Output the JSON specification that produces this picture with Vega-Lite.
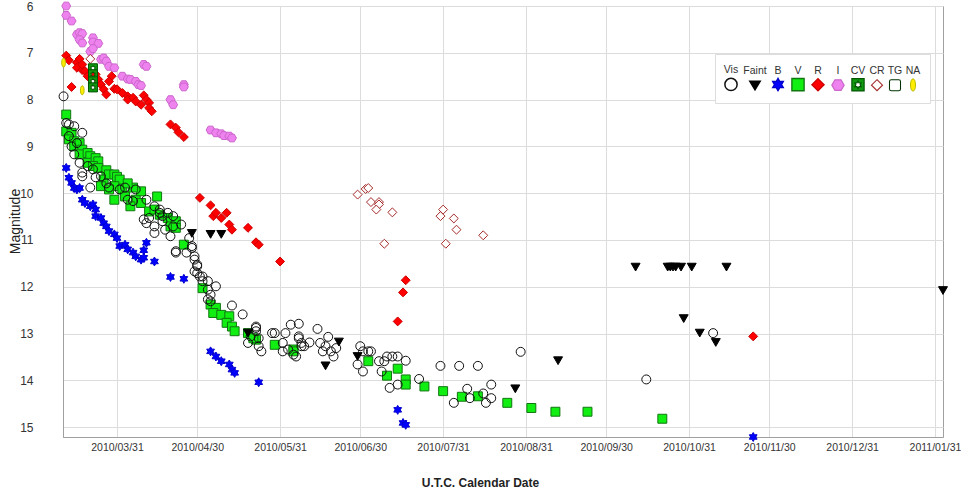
{
  "$schema": "https://vega.github.io/schema/vega-lite/v6.json",
  "width": 880,
  "height": 431,
  "autosize": {"type": "none"},
  "padding": {"left": 63, "top": 6, "right": 18, "bottom": 58},
  "background": "#ffffff",
  "config": {"view": {"stroke": "#a0a0a0", "strokeWidth": 1}, "font": "Liberation Sans"},
  "data": {"values": [
    {"d":"2010-03-12","m":6.0,"b":"I"},{"d":"2010-03-12","m":6.2,"b":"I"},{"d":"2010-03-14","m":6.32,"b":"I"},{"d":"2010-03-16","m":6.61,"b":"I"},{"d":"2010-03-17","m":6.57,"b":"I"},{"d":"2010-03-18","m":6.59,"b":"I"},{"d":"2010-03-17","m":6.72,"b":"I"},{"d":"2010-03-18","m":6.79,"b":"I"},{"d":"2010-03-22","m":6.68,"b":"I"},{"d":"2010-03-22","m":6.77,"b":"I"},{"d":"2010-03-24","m":6.8,"b":"I"},{"d":"2010-03-21","m":6.97,"b":"I"},{"d":"2010-03-22","m":6.91,"b":"I"},{"d":"2010-03-25","m":7.14,"b":"I"},{"d":"2010-03-26","m":7.11,"b":"I"},{"d":"2010-03-27","m":7.18,"b":"I"},{"d":"2010-03-28","m":7.29,"b":"I"},{"d":"2010-03-30","m":7.32,"b":"I"},{"d":"2010-04-02","m":7.5,"b":"I"},{"d":"2010-04-04","m":7.56,"b":"I"},{"d":"2010-04-05","m":7.57,"b":"I"},{"d":"2010-04-07","m":7.61,"b":"I"},{"d":"2010-04-08","m":7.68,"b":"I"},{"d":"2010-04-09","m":7.7,"b":"I"},{"d":"2010-04-10","m":7.25,"b":"I"},{"d":"2010-04-11","m":7.29,"b":"I"},{"d":"2010-04-20","m":8.0,"b":"I"},{"d":"2010-04-21","m":8.11,"b":"I"},{"d":"2010-04-25","m":7.68,"b":"I"},{"d":"2010-04-25","m":7.73,"b":"I"},{"d":"2010-05-05","m":8.65,"b":"I"},{"d":"2010-05-07","m":8.71,"b":"I"},{"d":"2010-05-09","m":8.73,"b":"I"},{"d":"2010-05-10","m":8.77,"b":"I"},{"d":"2010-05-12","m":8.78,"b":"I"},{"d":"2010-05-13","m":8.82,"b":"I"},
    {"d":"2010-03-12","m":7.06,"b":"R"},{"d":"2010-03-13","m":7.16,"b":"R"},{"d":"2010-03-16","m":7.21,"b":"R"},{"d":"2010-03-17","m":7.13,"b":"R"},{"d":"2010-03-16","m":7.32,"b":"R"},{"d":"2010-03-18","m":7.37,"b":"R"},{"d":"2010-03-18","m":7.25,"b":"R"},{"d":"2010-03-19","m":7.39,"b":"R"},{"d":"2010-03-20","m":7.5,"b":"R"},{"d":"2010-03-14","m":7.73,"b":"R"},{"d":"2010-03-23","m":7.46,"b":"R"},{"d":"2010-03-24","m":7.57,"b":"R"},{"d":"2010-03-25","m":7.68,"b":"R"},{"d":"2010-03-26","m":7.78,"b":"R"},{"d":"2010-03-27","m":7.89,"b":"R"},{"d":"2010-03-29","m":7.5,"b":"R"},{"d":"2010-03-28","m":7.61,"b":"R"},{"d":"2010-03-30","m":7.77,"b":"R"},{"d":"2010-03-31","m":7.78,"b":"R"},{"d":"2010-04-02","m":7.86,"b":"R"},{"d":"2010-04-04","m":7.93,"b":"R"},{"d":"2010-04-04","m":8.0,"b":"R"},{"d":"2010-04-06","m":7.96,"b":"R"},{"d":"2010-04-07","m":8.04,"b":"R"},{"d":"2010-04-09","m":8.11,"b":"R"},{"d":"2010-04-10","m":7.91,"b":"R"},{"d":"2010-04-11","m":8.0,"b":"R"},{"d":"2010-04-12","m":8.07,"b":"R"},{"d":"2010-04-12","m":8.18,"b":"R"},{"d":"2010-04-13","m":8.25,"b":"R"},{"d":"2010-04-20","m":8.53,"b":"R"},{"d":"2010-04-22","m":8.6,"b":"R"},{"d":"2010-04-23","m":8.7,"b":"R"},{"d":"2010-04-25","m":8.8,"b":"R"},{"d":"2010-05-01","m":10.1,"b":"R"},{"d":"2010-05-05","m":10.26,"b":"R"},{"d":"2010-05-06","m":10.49,"b":"R"},{"d":"2010-05-07","m":10.42,"b":"R"},{"d":"2010-05-09","m":10.53,"b":"R"},{"d":"2010-05-11","m":10.42,"b":"R"},{"d":"2010-05-12","m":10.67,"b":"R"},{"d":"2010-05-13","m":10.78,"b":"R"},{"d":"2010-05-19","m":10.74,"b":"R"},{"d":"2010-05-22","m":11.05,"b":"R"},{"d":"2010-05-23","m":11.1,"b":"R"},{"d":"2010-05-31","m":11.46,"b":"R"},{"d":"2010-07-17","m":11.86,"b":"R"},{"d":"2010-07-16","m":12.12,"b":"R"},{"d":"2010-07-14","m":12.74,"b":"R"},{"d":"2010-11-24","m":13.06,"b":"R"},
    {"d":"2010-03-12","m":8.32,"b":"V"},{"d":"2010-03-12","m":8.68,"b":"V"},{"d":"2010-03-14","m":8.71,"b":"V"},{"d":"2010-03-13","m":8.85,"b":"V"},{"d":"2010-03-15","m":8.89,"b":"V"},{"d":"2010-03-15","m":9.0,"b":"V"},{"d":"2010-03-17","m":8.93,"b":"V"},{"d":"2010-03-18","m":9.07,"b":"V"},{"d":"2010-03-17","m":9.17,"b":"V"},{"d":"2010-03-20","m":9.14,"b":"V"},{"d":"2010-03-21","m":9.21,"b":"V"},{"d":"2010-03-20","m":9.35,"b":"V"},{"d":"2010-03-23","m":9.25,"b":"V"},{"d":"2010-03-24","m":9.32,"b":"V"},{"d":"2010-03-22","m":9.42,"b":"V"},{"d":"2010-03-24","m":9.46,"b":"V"},{"d":"2010-03-27","m":9.51,"b":"V"},{"d":"2010-03-26","m":9.71,"b":"V"},{"d":"2010-03-25","m":9.85,"b":"V"},{"d":"2010-03-28","m":9.6,"b":"V"},{"d":"2010-03-30","m":9.6,"b":"V"},{"d":"2010-03-31","m":9.65,"b":"V"},{"d":"2010-04-01","m":9.71,"b":"V"},{"d":"2010-03-30","m":9.85,"b":"V"},{"d":"2010-03-30","m":10.14,"b":"V"},{"d":"2010-03-28","m":9.92,"b":"V"},{"d":"2010-04-02","m":9.92,"b":"V"},{"d":"2010-04-03","m":10.07,"b":"V"},{"d":"2010-04-07","m":10.14,"b":"V"},{"d":"2010-04-05","m":10.28,"b":"V"},{"d":"2010-04-09","m":10.21,"b":"V"},{"d":"2010-04-15","m":10.07,"b":"V"},{"d":"2010-04-12","m":10.39,"b":"V"},{"d":"2010-04-14","m":10.35,"b":"V"},{"d":"2010-04-16","m":10.46,"b":"V"},{"d":"2010-04-19","m":10.53,"b":"V"},{"d":"2010-04-20","m":10.71,"b":"V"},{"d":"2010-04-22","m":10.6,"b":"V"},{"d":"2010-04-22","m":10.74,"b":"V"},{"d":"2010-04-25","m":11.1,"b":"V"},{"d":"2010-04-09","m":9.96,"b":"V"},{"d":"2010-04-06","m":9.88,"b":"V"},{"d":"2010-04-04","m":9.79,"b":"V"},{"d":"2010-05-02","m":12.03,"b":"V"},{"d":"2010-05-05","m":12.38,"b":"V"},{"d":"2010-05-07","m":12.45,"b":"V"},{"d":"2010-05-06","m":12.56,"b":"V"},{"d":"2010-05-09","m":12.6,"b":"V"},{"d":"2010-05-12","m":12.63,"b":"V"},{"d":"2010-05-11","m":12.77,"b":"V"},{"d":"2010-05-13","m":12.85,"b":"V"},{"d":"2010-05-14","m":12.95,"b":"V"},{"d":"2010-05-19","m":12.99,"b":"V"},{"d":"2010-05-22","m":13.13,"b":"V"},{"d":"2010-05-21","m":13.1,"b":"V"},{"d":"2010-05-29","m":13.24,"b":"V"},{"d":"2010-06-05","m":13.34,"b":"V"},{"d":"2010-06-05","m":13.38,"b":"V"},{"d":"2010-07-03","m":13.59,"b":"V"},{"d":"2010-07-10","m":13.9,"b":"V"},{"d":"2010-07-14","m":13.75,"b":"V"},{"d":"2010-07-17","m":13.98,"b":"V"},{"d":"2010-07-17","m":14.09,"b":"V"},{"d":"2010-07-24","m":14.13,"b":"V"},{"d":"2010-07-31","m":14.23,"b":"V"},{"d":"2010-08-07","m":14.35,"b":"V"},{"d":"2010-08-13","m":14.34,"b":"V"},{"d":"2010-08-24","m":14.48,"b":"V"},{"d":"2010-09-02","m":14.59,"b":"V"},{"d":"2010-09-11","m":14.67,"b":"V"},{"d":"2010-09-23","m":14.67,"b":"V"},{"d":"2010-10-21","m":14.82,"b":"V"},
    {"d":"2010-03-11","m":7.93,"b":"Vis"},{"d":"2010-03-12","m":8.5,"b":"Vis"},{"d":"2010-03-13","m":8.53,"b":"Vis"},{"d":"2010-03-15","m":8.57,"b":"Vis"},{"d":"2010-03-18","m":8.71,"b":"Vis"},{"d":"2010-03-13","m":8.78,"b":"Vis"},{"d":"2010-03-14","m":9.0,"b":"Vis"},{"d":"2010-03-16","m":8.93,"b":"Vis"},{"d":"2010-03-15","m":9.17,"b":"Vis"},{"d":"2010-03-17","m":9.35,"b":"Vis"},{"d":"2010-03-18","m":9.56,"b":"Vis"},{"d":"2010-03-18","m":9.64,"b":"Vis"},{"d":"2010-03-20","m":9.42,"b":"Vis"},{"d":"2010-03-22","m":9.49,"b":"Vis"},{"d":"2010-03-21","m":9.88,"b":"Vis"},{"d":"2010-03-23","m":9.66,"b":"Vis"},{"d":"2010-03-25","m":9.64,"b":"Vis"},{"d":"2010-03-27","m":9.79,"b":"Vis"},{"d":"2010-03-28","m":9.88,"b":"Vis"},{"d":"2010-04-01","m":9.92,"b":"Vis"},{"d":"2010-04-03","m":9.88,"b":"Vis"},{"d":"2010-04-07","m":9.92,"b":"Vis"},{"d":"2010-04-04","m":10.14,"b":"Vis"},{"d":"2010-04-06","m":10.17,"b":"Vis"},{"d":"2010-04-11","m":10.14,"b":"Vis"},{"d":"2010-04-14","m":10.28,"b":"Vis"},{"d":"2010-04-16","m":10.35,"b":"Vis"},{"d":"2010-04-14","m":10.71,"b":"Vis"},{"d":"2010-04-17","m":10.6,"b":"Vis"},{"d":"2010-04-19","m":10.42,"b":"Vis"},{"d":"2010-04-18","m":10.78,"b":"Vis"},{"d":"2010-04-21","m":10.71,"b":"Vis"},{"d":"2010-04-24","m":10.67,"b":"Vis"},{"d":"2010-04-20","m":10.92,"b":"Vis"},{"d":"2010-04-22","m":11.24,"b":"Vis"},{"d":"2010-04-27","m":10.96,"b":"Vis"},{"d":"2010-04-28","m":11.13,"b":"Vis"},{"d":"2010-04-29","m":11.35,"b":"Vis"},{"d":"2010-04-30","m":11.53,"b":"Vis"},{"d":"2010-04-29","m":11.67,"b":"Vis"},{"d":"2010-05-01","m":11.78,"b":"Vis"},{"d":"2010-04-10","m":10.56,"b":"Vis"},{"d":"2010-04-11","m":10.64,"b":"Vis"},{"d":"2010-04-12","m":10.53,"b":"Vis"},{"d":"2010-04-17","m":10.49,"b":"Vis"},{"d":"2010-04-16","m":10.42,"b":"Vis"},{"d":"2010-04-14","m":10.85,"b":"Vis"},{"d":"2010-04-21","m":10.49,"b":"Vis"},{"d":"2010-04-22","m":11.27,"b":"Vis"},{"d":"2010-04-26","m":11.27,"b":"Vis"},{"d":"2010-04-28","m":11.17,"b":"Vis"},{"d":"2010-04-29","m":11.42,"b":"Vis"},{"d":"2010-04-30","m":11.56,"b":"Vis"},{"d":"2010-04-30","m":11.71,"b":"Vis"},{"d":"2010-05-02","m":11.78,"b":"Vis"},{"d":"2010-05-02","m":11.88,"b":"Vis"},{"d":"2010-05-04","m":11.88,"b":"Vis"},{"d":"2010-05-07","m":11.99,"b":"Vis"},{"d":"2010-05-04","m":12.06,"b":"Vis"},{"d":"2010-05-05","m":12.17,"b":"Vis"},{"d":"2010-05-04","m":12.27,"b":"Vis"},{"d":"2010-05-05","m":12.31,"b":"Vis"},{"d":"2010-05-13","m":12.4,"b":"Vis"},{"d":"2010-05-17","m":12.59,"b":"Vis"},{"d":"2010-05-22","m":12.85,"b":"Vis"},{"d":"2010-05-22","m":12.95,"b":"Vis"},{"d":"2010-05-20","m":13.06,"b":"Vis"},{"d":"2010-05-19","m":13.2,"b":"Vis"},{"d":"2010-05-23","m":13.27,"b":"Vis"},{"d":"2010-05-24","m":13.38,"b":"Vis"},{"d":"2010-05-29","m":12.99,"b":"Vis"},{"d":"2010-06-02","m":12.99,"b":"Vis"},{"d":"2010-06-04","m":12.81,"b":"Vis"},{"d":"2010-06-07","m":12.79,"b":"Vis"},{"d":"2010-06-01","m":13.2,"b":"Vis"},{"d":"2010-06-03","m":13.34,"b":"Vis"},{"d":"2010-06-01","m":13.38,"b":"Vis"},{"d":"2010-06-07","m":13.06,"b":"Vis"},{"d":"2010-06-08","m":13.2,"b":"Vis"},{"d":"2010-06-06","m":13.49,"b":"Vis"},{"d":"2010-06-09","m":13.27,"b":"Vis"},{"d":"2010-05-22","m":12.88,"b":"Vis"},{"d":"2010-05-23","m":13.1,"b":"Vis"},{"d":"2010-05-28","m":12.99,"b":"Vis"},{"d":"2010-06-07","m":13.1,"b":"Vis"},{"d":"2010-06-05","m":13.45,"b":"Vis"},{"d":"2010-06-08","m":13.27,"b":"Vis"},{"d":"2010-06-11","m":13.19,"b":"Vis"},{"d":"2010-06-14","m":12.9,"b":"Vis"},{"d":"2010-06-15","m":13.2,"b":"Vis"},{"d":"2010-06-17","m":13.27,"b":"Vis"},{"d":"2010-06-16","m":13.38,"b":"Vis"},{"d":"2010-06-19","m":13.38,"b":"Vis"},{"d":"2010-06-18","m":13.07,"b":"Vis"},{"d":"2010-06-21","m":13.31,"b":"Vis"},{"d":"2010-06-20","m":13.49,"b":"Vis"},{"d":"2010-06-30","m":13.27,"b":"Vis"},{"d":"2010-07-01","m":13.38,"b":"Vis"},{"d":"2010-07-03","m":13.38,"b":"Vis"},{"d":"2010-07-04","m":13.38,"b":"Vis"},{"d":"2010-06-29","m":13.66,"b":"Vis"},{"d":"2010-07-01","m":13.81,"b":"Vis"},{"d":"2010-07-07","m":13.59,"b":"Vis"},{"d":"2010-07-08","m":13.81,"b":"Vis"},{"d":"2010-07-09","m":13.59,"b":"Vis"},{"d":"2010-07-10","m":13.49,"b":"Vis"},{"d":"2010-07-12","m":13.49,"b":"Vis"},{"d":"2010-07-14","m":13.49,"b":"Vis"},{"d":"2010-07-17","m":13.58,"b":"Vis"},{"d":"2010-07-11","m":14.16,"b":"Vis"},{"d":"2010-07-14","m":14.09,"b":"Vis"},{"d":"2010-07-22","m":13.97,"b":"Vis"},{"d":"2010-07-30","m":13.69,"b":"Vis"},{"d":"2010-08-06","m":13.69,"b":"Vis"},{"d":"2010-08-13","m":13.69,"b":"Vis"},{"d":"2010-08-04","m":14.48,"b":"Vis"},{"d":"2010-08-09","m":14.18,"b":"Vis"},{"d":"2010-08-10","m":14.38,"b":"Vis"},{"d":"2010-08-15","m":14.28,"b":"Vis"},{"d":"2010-08-16","m":14.48,"b":"Vis"},{"d":"2010-08-18","m":14.09,"b":"Vis"},{"d":"2010-08-18","m":14.38,"b":"Vis"},{"d":"2010-08-29","m":13.39,"b":"Vis"},{"d":"2010-10-15","m":13.98,"b":"Vis"},{"d":"2010-11-09","m":12.99,"b":"Vis"},
    {"d":"2010-03-12","m":9.46,"b":"B"},{"d":"2010-03-13","m":9.67,"b":"B"},{"d":"2010-03-14","m":9.78,"b":"B"},{"d":"2010-03-15","m":9.89,"b":"B"},{"d":"2010-03-16","m":9.92,"b":"B"},{"d":"2010-03-17","m":9.89,"b":"B"},{"d":"2010-03-18","m":10.14,"b":"B"},{"d":"2010-03-19","m":10.21,"b":"B"},{"d":"2010-03-21","m":10.28,"b":"B"},{"d":"2010-03-22","m":10.24,"b":"B"},{"d":"2010-03-23","m":10.35,"b":"B"},{"d":"2010-03-23","m":10.49,"b":"B"},{"d":"2010-03-25","m":10.53,"b":"B"},{"d":"2010-03-26","m":10.64,"b":"B"},{"d":"2010-03-27","m":10.71,"b":"B"},{"d":"2010-03-28","m":10.81,"b":"B"},{"d":"2010-03-30","m":10.88,"b":"B"},{"d":"2010-03-31","m":10.96,"b":"B"},{"d":"2010-04-01","m":11.13,"b":"B"},{"d":"2010-04-03","m":11.1,"b":"B"},{"d":"2010-04-04","m":11.2,"b":"B"},{"d":"2010-04-06","m":11.27,"b":"B"},{"d":"2010-04-07","m":11.35,"b":"B"},{"d":"2010-04-09","m":11.42,"b":"B"},{"d":"2010-04-10","m":11.38,"b":"B"},{"d":"2010-04-11","m":11.06,"b":"B"},{"d":"2010-04-10","m":11.22,"b":"B"},{"d":"2010-04-14","m":11.46,"b":"B"},{"d":"2010-04-20","m":11.79,"b":"B"},{"d":"2010-04-25","m":11.83,"b":"B"},{"d":"2010-05-05","m":13.38,"b":"B"},{"d":"2010-05-07","m":13.49,"b":"B"},{"d":"2010-05-09","m":13.59,"b":"B"},{"d":"2010-05-12","m":13.66,"b":"B"},{"d":"2010-05-13","m":13.77,"b":"B"},{"d":"2010-05-14","m":13.84,"b":"B"},{"d":"2010-05-23","m":14.04,"b":"B"},{"d":"2010-07-14","m":14.63,"b":"B"},{"d":"2010-07-16","m":14.91,"b":"B"},{"d":"2010-07-17","m":14.95,"b":"B"},{"d":"2010-11-24","m":15.21,"b":"B"},
    {"d":"2010-03-21","m":7.13,"b":"CR"},{"d":"2010-06-29","m":10.03,"b":"CR"},{"d":"2010-07-02","m":9.91,"b":"CR"},{"d":"2010-07-03","m":9.89,"b":"CR"},{"d":"2010-07-04","m":10.19,"b":"CR"},{"d":"2010-07-07","m":10.19,"b":"CR"},{"d":"2010-07-07","m":10.24,"b":"CR"},{"d":"2010-07-06","m":10.35,"b":"CR"},{"d":"2010-07-12","m":10.41,"b":"CR"},{"d":"2010-07-09","m":11.08,"b":"CR"},{"d":"2010-07-31","m":10.35,"b":"CR"},{"d":"2010-07-30","m":10.49,"b":"CR"},{"d":"2010-08-04","m":10.54,"b":"CR"},{"d":"2010-08-05","m":10.78,"b":"CR"},{"d":"2010-08-01","m":11.08,"b":"CR"},{"d":"2010-08-15","m":10.9,"b":"CR"},
    {"d":"2010-03-22","m":7.33,"b":"CV"},{"d":"2010-03-22","m":7.46,"b":"CV"},{"d":"2010-03-22","m":7.61,"b":"CV"},{"d":"2010-03-22","m":7.74,"b":"CV"},
    {"d":"2010-03-11","m":7.21,"b":"NA"},{"d":"2010-03-18","m":7.8,"b":"NA"},
    {"d":"2010-04-28","m":10.86,"b":"Faint"},{"d":"2010-05-05","m":10.88,"b":"Faint"},{"d":"2010-05-09","m":10.88,"b":"Faint"},{"d":"2010-05-19","m":12.99,"b":"Faint"},{"d":"2010-06-22","m":13.18,"b":"Faint"},{"d":"2010-06-17","m":13.69,"b":"Faint"},{"d":"2010-06-29","m":13.49,"b":"Faint"},{"d":"2010-08-27","m":14.18,"b":"Faint"},{"d":"2010-09-12","m":13.58,"b":"Faint"},{"d":"2010-10-11","m":11.58,"b":"Faint"},{"d":"2010-10-23","m":11.58,"b":"Faint"},{"d":"2010-10-24","m":11.58,"b":"Faint"},{"d":"2010-10-25","m":11.58,"b":"Faint"},{"d":"2010-10-26","m":11.58,"b":"Faint"},{"d":"2010-10-28","m":11.58,"b":"Faint"},{"d":"2010-11-01","m":11.58,"b":"Faint"},{"d":"2010-11-14","m":11.58,"b":"Faint"},{"d":"2010-10-29","m":12.68,"b":"Faint"},{"d":"2010-11-04","m":12.99,"b":"Faint"},{"d":"2010-11-10","m":13.19,"b":"Faint"},{"d":"2011-02-03","m":12.08,"b":"Faint"}
  ]},
  "encoding": {
    "x": {
      "field": "d", "type": "temporal",
      "scale": {"type": "utc", "domain": [{"year": 2010, "month": 3, "date": 10, "hours": 19, "utc": true}, {"year": 2011, "month": 2, "date": 3, "utc": true}]},
      "axis": {
        "title": "U.T.C. Calendar Date",
        "values": [
          {"year": 2010, "month": 3, "date": 31, "utc": true},
          {"year": 2010, "month": 4, "date": 30, "utc": true},
          {"year": 2010, "month": 5, "date": 31, "utc": true},
          {"year": 2010, "month": 6, "date": 30, "utc": true},
          {"year": 2010, "month": 7, "date": 31, "utc": true},
          {"year": 2010, "month": 8, "date": 31, "utc": true},
          {"year": 2010, "month": 9, "date": 30, "utc": true},
          {"year": 2010, "month": 10, "date": 31, "utc": true},
          {"year": 2010, "month": 11, "date": 30, "utc": true},
          {"year": 2010, "month": 12, "date": 31, "utc": true},
          {"year": 2011, "month": 1, "date": 31, "utc": true}
        ],
        "labelExpr": "utcFormat(datum.value, '%Y/%m/%d')",
        "grid": true, "gridColor": "#dcdcdc", "gridWidth": 1,
        "ticks": false, "domainColor": "#a0a0a0",
        "labelFont": "Liberation Sans", "labelFontSize": 10.5, "labelColor": "#333333",
        "labelPadding": 5, "labelOverlap": false, "labelFlush": false, "labelBound": false,
        "titleFont": "Liberation Sans", "titleFontSize": 12, "titleFontWeight": "bold", "titleColor": "#222222",
        "titleX": 417, "titleY": 45, "titleAlign": "center", "titleBaseline": "middle"
      }
    },
    "y": {
      "field": "m", "type": "quantitative",
      "scale": {"domain": [6, 15.21], "reverse": true, "nice": false, "zero": false},
      "axis": {
        "title": "Magnitude",
        "values": [6, 7, 8, 9, 10, 11, 12, 13, 14, 15],
        "grid": true, "gridColor": "#dcdcdc", "gridWidth": 1,
        "ticks": false, "domainColor": "#a0a0a0",
        "labelFont": "Liberation Sans", "labelFontSize": 12, "labelColor": "#333333",
        "labelPadding": 30, "labelFlush": false, "labelBound": false,
        "titleFont": "Liberation Sans", "titleFontSize": 14, "titleFontWeight": "normal", "titleColor": "#222222",
        "titleX": -48, "titleY": 215, "titleAngle": 270, "titleAlign": "center", "titleBaseline": "middle"
      }
    }
  },
  "layer": [
    {
      "mark": {"type": "point", "filled": true, "opacity": 1, "size": 80, "clip": false},
      "encoding": {
        "shape": {
          "field": "b", "type": "nominal", "legend": null,
          "scale": {
            "domain": ["Vis", "Faint", "B", "V", "R", "I", "CV", "CR", "TG", "NA"],
            "range": [
              "circle", "triangle-down",
              "M0,-1L0.289,-0.5L0.866,-0.5L0.577,0L0.866,0.5L0.289,0.5L0,1L-0.289,0.5L-0.866,0.5L-0.577,0L-0.866,-0.5L-0.289,-0.5Z",
              "square", "diamond",
              "M-1,0L-0.5,-0.866L0.5,-0.866L1,0L0.5,0.866L-0.5,0.866Z",
              "M-1,-1L1,-1L1,1L-1,1ZM0,-0.6L-0.17,-0.3L-0.52,-0.3L-0.35,0L-0.52,0.3L-0.17,0.3L0,0.6L0.17,0.3L0.52,0.3L0.35,0L0.52,-0.3L0.17,-0.3Z",
              "diamond", "square",
              "M0,-1C0.55,-1 0.55,1 0,1C-0.55,1 -0.55,-1 0,-1Z"
            ]
          }
        },
        "fill": {
          "field": "b", "type": "nominal", "legend": null,
          "scale": {
            "domain": ["Vis", "Faint", "B", "V", "R", "I", "CV", "CR", "TG", "NA"],
            "range": ["transparent", "#000000", "#0000ff", "#11ee11", "#ff0000", "#ee82ee", "#119911", "#ffffff", "#ffffff", "#ffee00"]
          }
        },
        "stroke": {
          "field": "b", "type": "nominal", "legend": null,
          "scale": {
            "domain": ["Vis", "Faint", "B", "V", "R", "I", "CV", "CR", "TG", "NA"],
            "range": ["#111111", "#000000", "#0000cc", "#117711", "#cc0000", "#cc66cc", "#005500", "#a52a2a", "#003300", "#bbbb00"]
          }
        },
        "strokeWidth": {
          "field": "b", "type": "nominal", "legend": null,
          "scale": {
            "domain": ["Vis", "Faint", "B", "V", "R", "I", "CV", "CR", "TG", "NA"],
            "range": [1, 1, 1, 1, 1, 1, 1, 2, 2.5, 1]
          }
        }
      }
    },
    {
      "transform": [{"filter": "datum.m < 0"}],
      "mark": {"type": "point", "filled": true, "opacity": 1, "size": 80, "clip": false},
      "encoding": {
        "shape": {
          "field": "b", "type": "nominal",
          "scale": {
            "domain": ["Vis", "Faint", "B", "V", "R", "I", "CV", "CR", "TG", "NA"],
            "range": [
              "M-1,2.3A1,1 0 1,0 1,2.3A1,1 0 1,0 -1,2.3Z",
              "M-0.85,1.6L0.85,1.6L0,3.0Z",
              "M0,1.3L0.289,1.8L0.866,1.8L0.577,2.3L0.866,2.8L0.289,2.8L0,3.3L-0.289,2.8L-0.866,2.8L-0.577,2.3L-0.866,1.8L-0.289,1.8Z",
              "M-1,1.3L1,1.3L1,3.3L-1,3.3Z",
              "M0,1.3L1,2.3L0,3.3L-1,2.3Z",
              "M-1,2.3L-0.5,1.434L0.5,1.434L1,2.3L0.5,3.166L-0.5,3.166Z",
              "M-1,1.3L1,1.3L1,3.3L-1,3.3ZM0,1.7L-0.17,2L-0.52,2L-0.35,2.3L-0.52,2.6L-0.17,2.6L0,2.9L0.17,2.6L0.52,2.6L0.35,2.3L0.52,2L0.17,2Z",
              "M0,1.4L0.9,2.3L0,3.2L-0.9,2.3Z",
              "M-0.6,1.4L0.6,1.4Q0.9,1.4 0.9,1.7L0.9,2.9Q0.9,3.2 0.6,3.2L-0.6,3.2Q-0.9,3.2 -0.9,2.9L-0.9,1.7Q-0.9,1.4 -0.6,1.4Z",
              "M0,1.3C0.55,1.3 0.55,3.3 0,3.3C-0.55,3.3 -0.55,1.3 0,1.3Z"
            ]
          },
          "legend": {
            "title": null, "orient": "none", "legendX": 652, "legendY": 48, "direction": "horizontal",
            "fillColor": "#ffffff", "strokeColor": "#dddddd", "padding": 9,
            "symbolSize": 150, "columnPadding": 2,
            "labelFont": "Liberation Sans", "labelFontSize": 10.5, "labelColor": "#333333",
            "labelAlign": "center", "labelBaseline": "middle", "labelOffset": -7
          }
        },
        "fill": {
          "field": "b", "type": "nominal",
          "scale": {
            "domain": ["Vis", "Faint", "B", "V", "R", "I", "CV", "CR", "TG", "NA"],
            "range": ["transparent", "#000000", "#0000ff", "#11ee11", "#ff0000", "#ee82ee", "#119911", "#ffffff", "#ffffff", "#ffee00"]
          }
        },
        "stroke": {
          "field": "b", "type": "nominal",
          "scale": {
            "domain": ["Vis", "Faint", "B", "V", "R", "I", "CV", "CR", "TG", "NA"],
            "range": ["#111111", "#000000", "#0000cc", "#117711", "#cc0000", "#cc66cc", "#005500", "#a52a2a", "#003300", "#bbbb00"]
          }
        },
        "strokeWidth": {
          "field": "b", "type": "nominal",
          "scale": {
            "domain": ["Vis", "Faint", "B", "V", "R", "I", "CV", "CR", "TG", "NA"],
            "range": [1.5, 1, 1, 1, 1, 1, 1, 2, 2.5, 1]
          }
        }
      }
    }
  ],
  "resolve": {"scale": {"shape": "independent", "fill": "independent", "stroke": "independent", "strokeWidth": "independent"}}
}
